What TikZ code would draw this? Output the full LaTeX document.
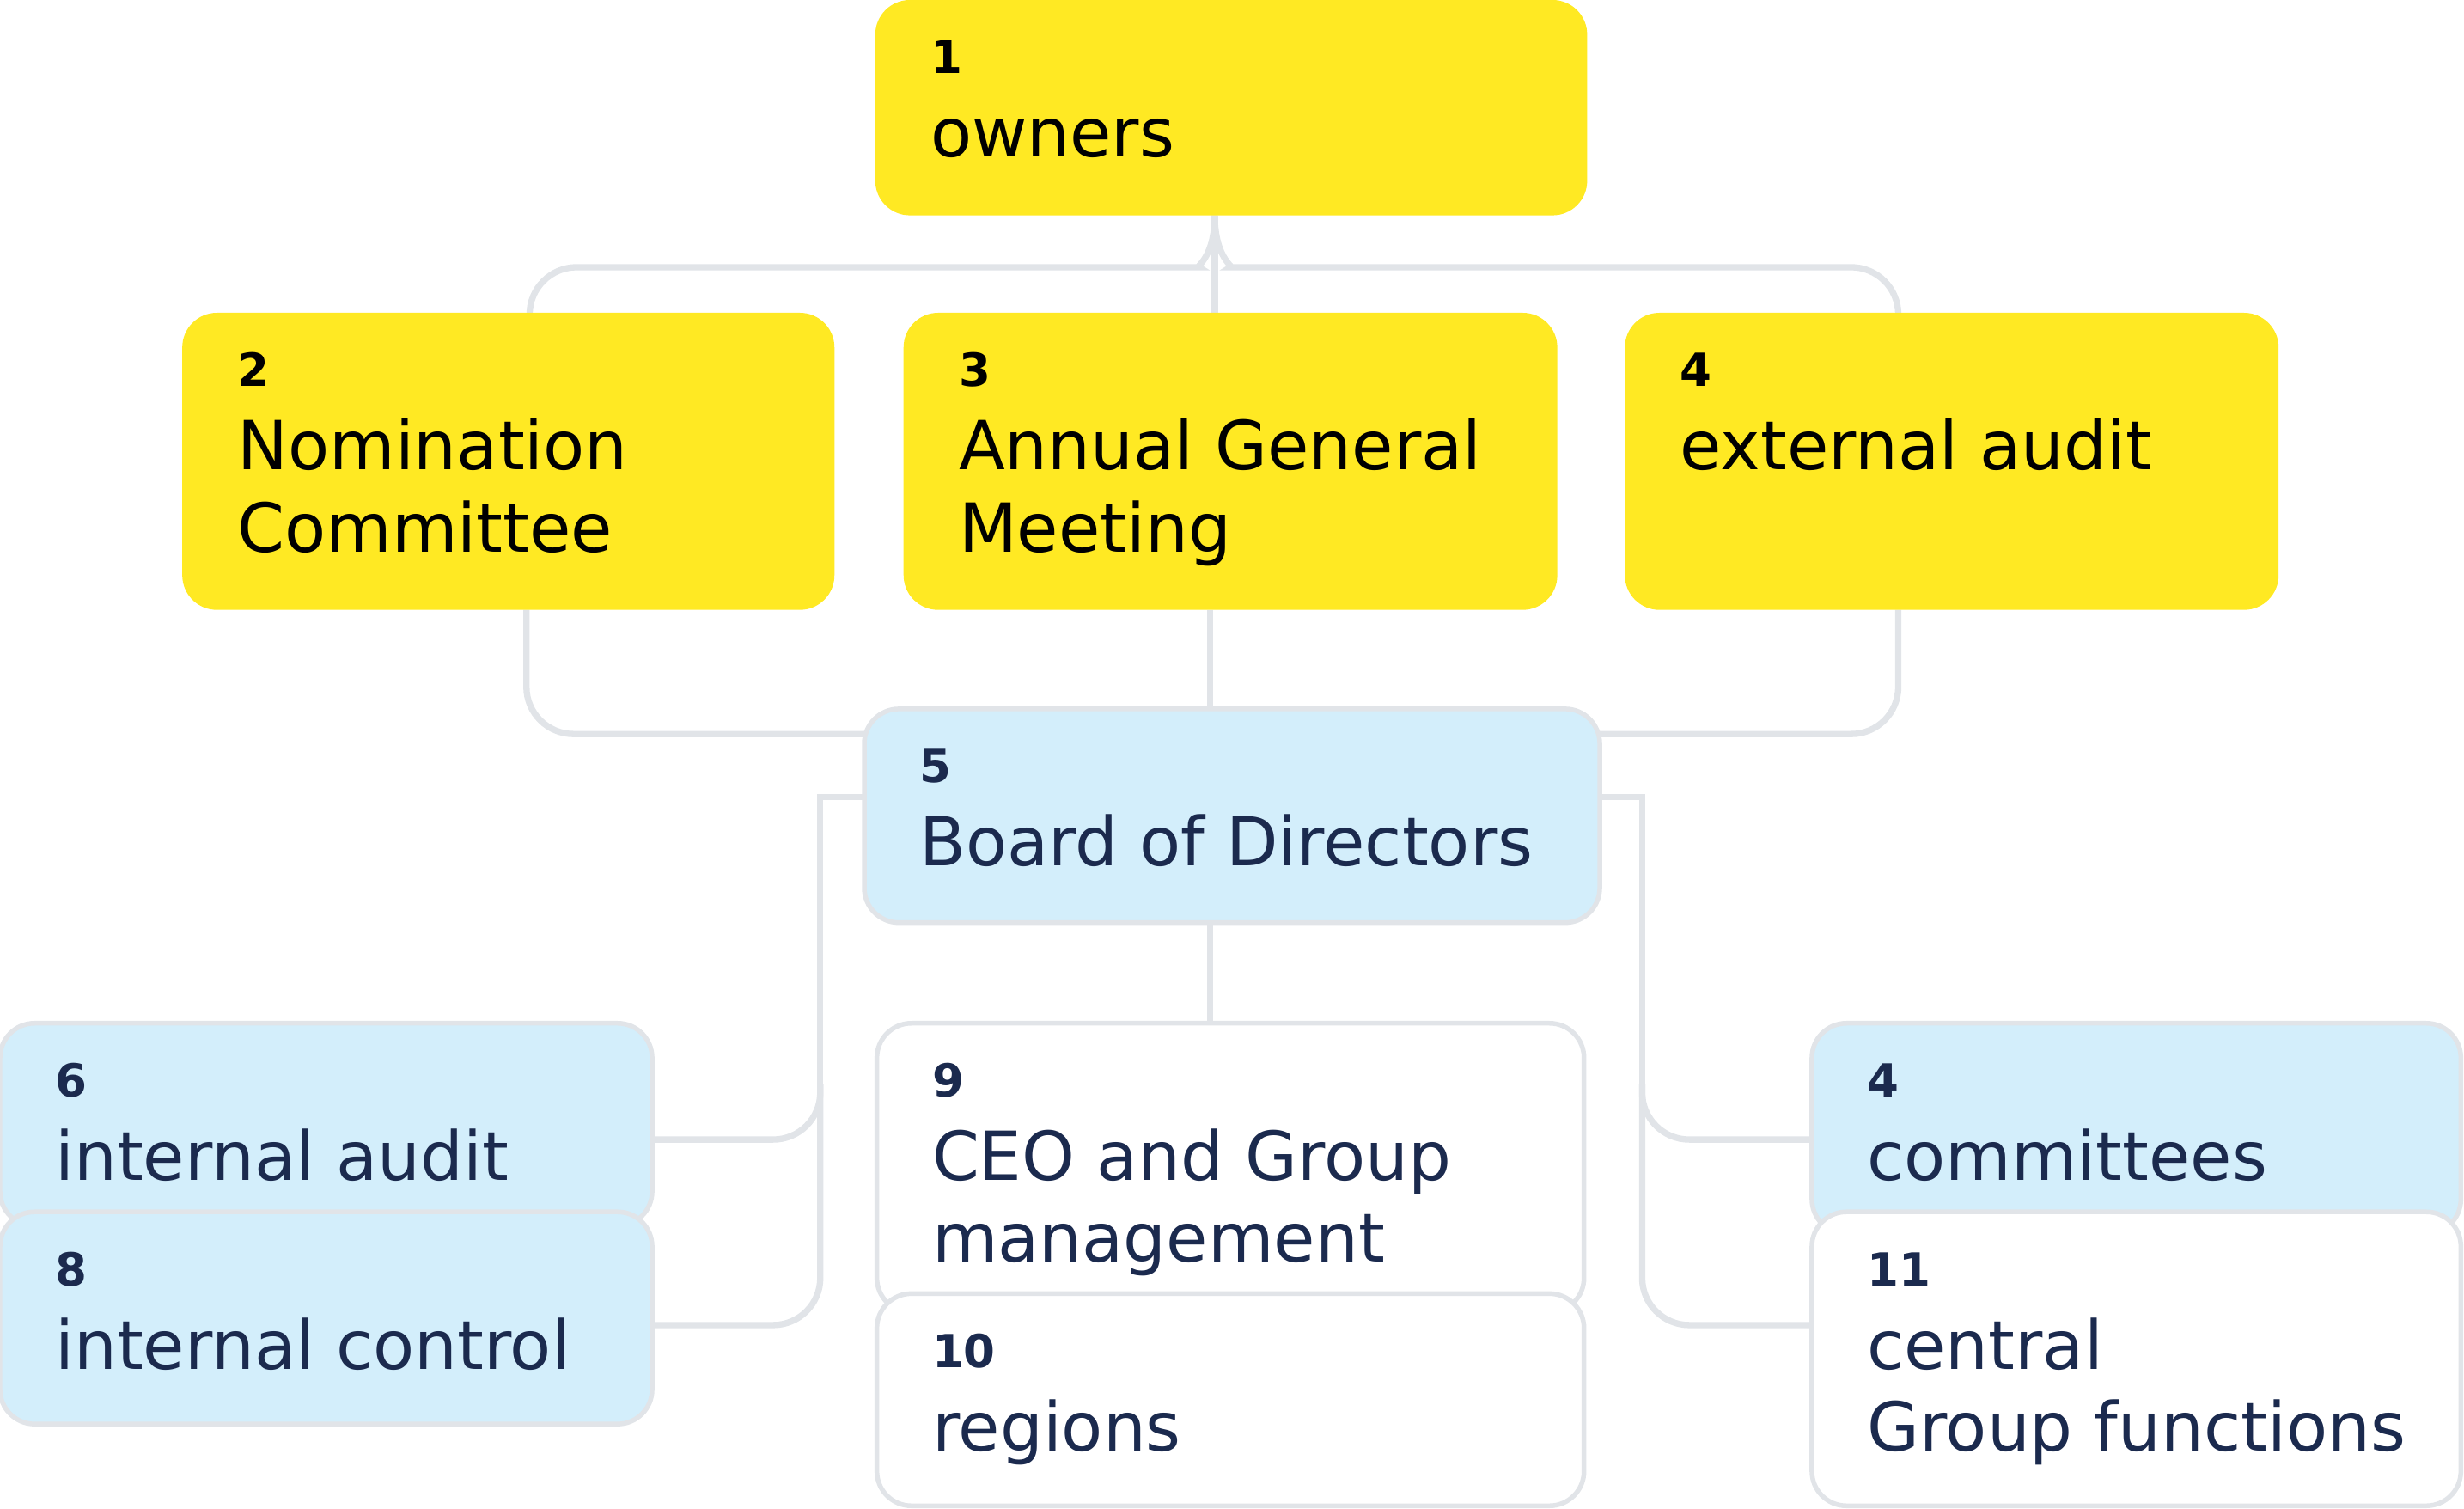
\documentclass[tikz,border=0pt]{standalone}
\usepackage{fontspec}
\setmainfont{DejaVu Sans}
\definecolor{yel}{HTML}{FFE923}
\definecolor{lblue}{HTML}{D3EEFB}
\definecolor{lgray}{HTML}{E1E4E8}
\definecolor{navy}{HTML}{1B2A4E}
\begin{document}
\begin{tikzpicture}[x=1pt,y=-1pt,
  box/.style={draw=none,rounded corners=22,inner sep=0},
  ybox/.style={box,fill=yel},
  bbox/.style={box,fill=lblue,draw=lgray,line width=3},
  wbox/.style={box,fill=white,draw=lgray,line width=3},
  num/.style={anchor=base west,inner sep=0,font=\fontsize{29}{29}\selectfont\bfseries},
  txt/.style={anchor=base west,inner sep=0,font=\fontsize{43}{52}\selectfont},
  con/.style={draw=lgray,line width=4,rounded corners=30}]
\useasboundingbox (0,0) rectangle (1568,960);
\newcommand\bx[9]{%
  \fill[#6] (#2,#3) rectangle (#4,#5);
  \node[minimum width=#4-#2,minimum height=#5-#3,anchor=north west,inner sep=0] (#1) at (#2,#3) {};
  \node[num,text=#9] (#1n) at (#2+35,#3+47) {#7};
  \node[txt,text=#9] (#1t) at (#2+35,#3+100) {\begin{tabular}[t]{@{}l@{}}#8\end{tabular}};}
% connectors
\draw[con] (773,137) -- (773,199);
\draw[con] (773,137) .. controls (773,165) and (760,170) .. (733,170) -- (337,170) -- (337,199);
\draw[con] (773,137) .. controls (773,165) and (786,170) .. (813,170) -- (1208,170) -- (1208,199);
\draw[con] (335,388) -- (335,467) -- (550,467);
\draw[con] (770,388) -- (770,451);
\draw[con] (1208,388) -- (1208,467) -- (1018,467);
\draw[con] (770,587) -- (770,651);
\draw[con,rounded corners=0] (550,507) -- (522,507) -- (522,700);
\draw[con] (522,690) -- (522,843) -- (415,843);
\draw[con] (522,690) -- (522,725) -- (415,725);
\draw[con,rounded corners=0] (1018,507) -- (1045,507) -- (1045,700);
\draw[con] (1045,690) -- (1045,843) -- (1153,843);
\draw[con] (1045,690) -- (1045,725) -- (1153,725);
% boxes
\bx{b1}{557}{0}{1010}{137}{ybox}{1}{owners}{black}
\bx{b2}{116}{199}{531}{388}{ybox}{2}{Nomination\\Committee}{black}
\bx{b3}{575}{199}{991}{388}{ybox}{3}{Annual General\\Meeting}{black}
\bx{b4}{1034}{199}{1450}{388}{ybox}{4}{external audit}{black}
\bx{b5}{550}{451}{1018}{587}{bbox}{5}{Board of Directors}{navy}
\bx{b6}{0}{651}{415}{780}{bbox}{6}{internal audit}{navy}
\bx{b8}{0}{771}{415}{906}{bbox}{8}{internal control}{navy}
\bx{b9}{558}{651}{1008}{835}{wbox}{9}{CEO and Group\\management}{navy}
\bx{b10}{558}{823}{1008}{958}{wbox}{10}{regions}{navy}
\bx{bc}{1153}{651}{1566}{785}{bbox}{4}{committees}{navy}
\bx{b11}{1153}{771}{1566}{958}{wbox}{11}{central\\Group functions}{navy}
\end{tikzpicture}
\end{document}
